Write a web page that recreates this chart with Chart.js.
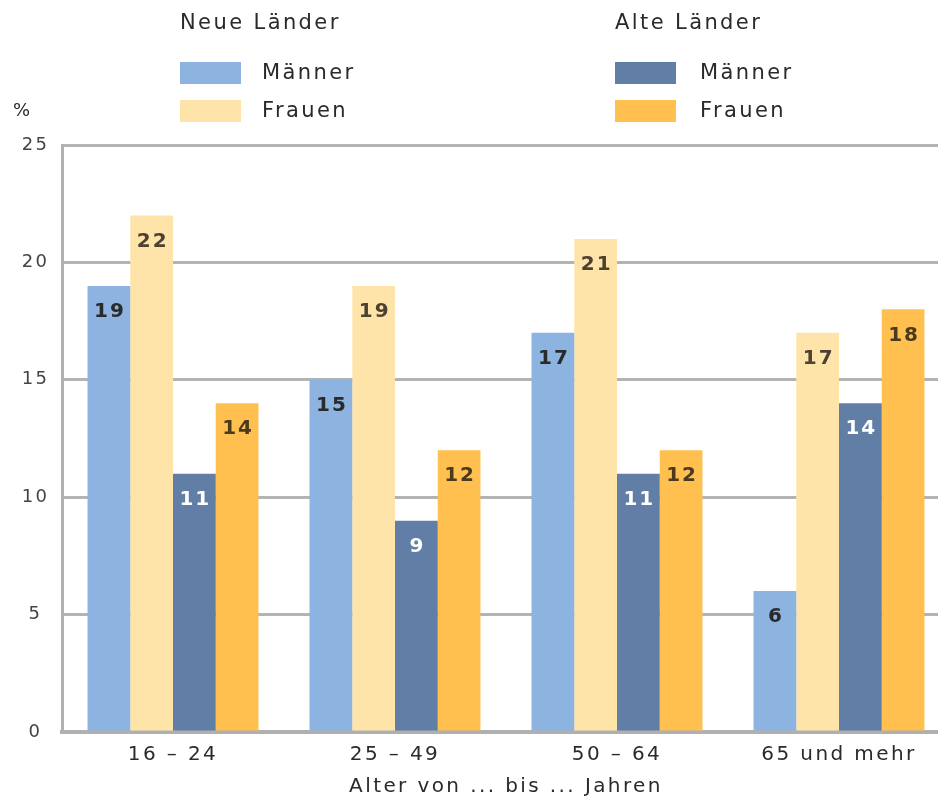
<!DOCTYPE html>
<html>
<head>
<meta charset="utf-8">
<script src="https://cdn.jsdelivr.net/npm/chart.js@4.4.0/dist/chart.umd.min.js"></script>
<style>
  body { margin: 0; overflow: hidden; background: #fff; font-family: "DejaVu Sans", sans-serif; color: #2a2a2a; }
  #wrap { position: absolute; left: 0; top: 0; width: 950px; height: 797px; }
  .lg { position: absolute; font-size: 21px; letter-spacing: 2.4px; white-space: nowrap; line-height: 24px; }
  .sw { position: absolute; width: 61px; height: 22px; }
</style>
</head>
<body>
<div id="wrap"><canvas id="chart-area" width="950" height="797"></canvas></div>

<div class="lg" style="left:180px;top:10px">Neue Länder</div>
<div class="lg" style="left:615px;top:10px">Alte Länder</div>
<div class="sw" style="left:180px;top:62px;background:#8db3e0"></div>
<div class="lg" style="left:262px;top:60px">Männer</div>
<div class="sw" style="left:180px;top:100px;background:#ffe4aa"></div>
<div class="lg" style="left:262px;top:98px">Frauen</div>
<div class="sw" style="left:615px;top:62px;background:#607ea6"></div>
<div class="lg" style="left:700px;top:60px">Männer</div>
<div class="sw" style="left:615px;top:100px;background:#ffc050"></div>
<div class="lg" style="left:700px;top:98px">Frauen</div>
<div class="lg" style="left:13px;top:98px;font-size:18px;letter-spacing:0">%</div>

<script>
var categories = ['16 – 24', '25 – 49', '50 – 64', '65 und mehr'];
var neueMaenner = [19, 15, 17, 6];
var neueFrauen = [22, 19, 21, 17];
var alteMaenner = [11, 9, 11, 14];
var alteFrauen = [14, 12, 12, 18];

var labelColors = ['#2a2a2a', '#4d4232', '#ffffff', '#4a3a1e'];

// numbers inside the bars, near the top
var barLabels = {
	id: 'barLabels',
	afterDatasetsDraw: function (chart) {
		var ctx = chart.ctx;
		ctx.save();
		ctx.font = 'bold 20px "DejaVu Sans"';
		ctx.letterSpacing = '2px';
		ctx.textAlign = 'center';
		ctx.textBaseline = 'middle';
		chart.data.datasets.forEach(function (ds, i) {
			chart.getDatasetMeta(i).data.forEach(function (bar, j) {
				ctx.fillStyle = labelColors[i];
				ctx.fillText(ds.data[j], bar.x + 1, bar.y + 26);
			});
		});
		ctx.restore();
	}
};

var spacing = {
	id: 'spacing',
	beforeDraw: function (chart) { chart.ctx.letterSpacing = '2.4px'; }
};

var config = {
	type: 'bar',
	data: {
		labels: categories,
		datasets: [
			{ label: 'Neue Länder Männer', data: neueMaenner, backgroundColor: '#8db3e0' },
			{ label: 'Neue Länder Frauen', data: neueFrauen, backgroundColor: '#ffe4aa' },
			{ label: 'Alte Länder Männer', data: alteMaenner, backgroundColor: '#607ea6' },
			{ label: 'Alte Länder Frauen', data: alteFrauen, backgroundColor: '#ffc050' }
		]
	},
	options: {
		responsive: false,
		animation: false,
		layout: { padding: { top: 145, right: 0, bottom: 0, left: 0 } },
		datasets: { bar: { barPercentage: 1, categoryPercentage: 0.77 } },
		plugins: { legend: { display: false }, tooltip: { enabled: false } },
		scales: {
			x: {
				grid: { display: false, drawTicks: false },
				border: { display: true, color: '#b0b0b0', width: 4 },
				ticks: { color: '#2a2a2a', padding: 11, font: { family: 'DejaVu Sans', size: 20 } },
				title: { display: true, text: 'Alter von ... bis ... Jahren', color: '#2a2a2a',
					padding: { top: 0, bottom: -2 }, font: { family: 'DejaVu Sans', size: 20 } },
				afterFit: function (scale) { scale.height = 65; }
			},
			y: {
				min: 0, max: 25,
				grid: { color: '#b3b3b3', lineWidth: 3, drawTicks: false },
				border: { display: true, color: '#b0b0b0', width: 3 },
				ticks: { stepSize: 5, color: '#444', padding: 15, crossAlign: 'center',
					font: { family: 'DejaVu Sans', size: 18 } },
				afterFit: function (scale) { scale.width = 62; }
			}
		}
	},
	plugins: [spacing, barLabels]
};

window.onload = function () {
	var ctx = document.getElementById('chart-area').getContext('2d');
	window.myBar = new Chart(ctx, config);
};
</script>
</body>
</html>
